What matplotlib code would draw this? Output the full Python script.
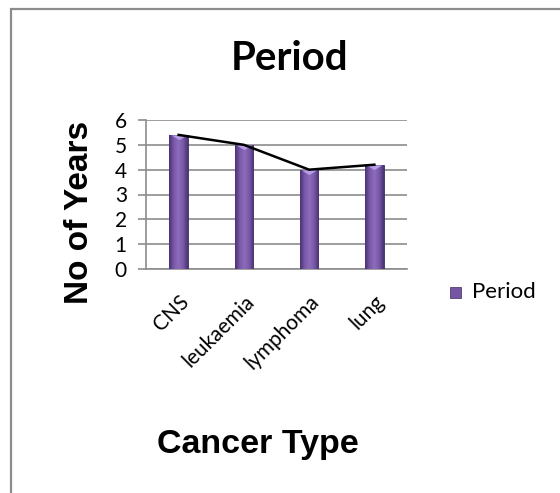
import matplotlib
matplotlib.use("Agg")
import matplotlib.pyplot as plt
import numpy as np
from matplotlib.colors import LinearSegmentedColormap
from matplotlib.patches import Rectangle
from matplotlib.path import Path

categories = ["CNS", "leukaemia", "lymphoma", "lung"]
period = [5.4, 5.0, 4.0, 4.2]
y_ticks = [0, 1, 2, 3, 4, 5, 6]

BODY_FONT = ["Lato", "DejaVu Sans"]
HEAD_FONT = ["Liberation Sans", "DejaVu Sans"]

fig = plt.figure(figsize=(5.6, 4.93), dpi=100)
fig.patch.set_facecolor("white")

# outer chart border
fig.add_artist(Rectangle((11 / 560, -0.05), 1.2, 1 - 8.5 / 493 + 0.05,
                         transform=fig.transFigure, fill=False,
                         edgecolor="#8c8c8c", linewidth=1.6))

ax = fig.add_axes([146 / 560, 224 / 493, 261 / 560, 149 / 493])
x = np.arange(len(categories))
bars = ax.bar(x, period, width=0.28, color="#7656a3", zorder=3,
              edgecolor="#3e2a5e", linewidth=0.6)

# shaded bar fill
shade = LinearSegmentedColormap.from_list(
    "shade", ["#4a3272", "#7a5aa8", "#8d6dbb", "#7a5aa8", "#4a3272"])
grad = np.linspace(0, 1, 64).reshape(1, -1)
for b in bars:
    x0, y0 = b.get_x(), b.get_y()
    im = ax.imshow(grad, cmap=shade, aspect="auto", zorder=3.5,
                   extent=(x0, x0 + b.get_width(), y0, y0 + b.get_height()))
    im.set_clip_path(b)

# flat bevel highlight on top of each bar
bevel = Path([(-1, 0), (1, 0), (0, -0.6), (-1, 0)],
             [Path.MOVETO, Path.LINETO, Path.LINETO, Path.CLOSEPOLY])
ax.plot(x, period, linestyle="none", marker=bevel, markersize=11,
        markerfacecolor="#b89ee6", markeredgecolor="none", zorder=4)

ax.plot(x, period, color="black", linewidth=1.8, zorder=5)

ax.set_xlim(-0.5, len(categories) - 0.5)
ax.set_ylim(0, 6)
ax.set_yticks(y_ticks)
ax.set_yticklabels([str(t) for t in y_ticks], fontsize=15, family=BODY_FONT)
ax.set_xticks(x)
ax.set_xticklabels(categories, rotation=45, ha="right", rotation_mode="anchor",
                   fontsize=15, family=BODY_FONT)
ax.tick_params(axis="x", length=0, pad=16)
ax.tick_params(axis="y", length=5.8, color="#8c8c8c", width=1.2, pad=8)

ax.grid(axis="y", color="#8c8c8c", linewidth=1.2, zorder=0)
for s in ["top", "right"]:
    ax.spines[s].set_visible(False)
for s in ["left", "bottom"]:
    ax.spines[s].set_color("#8c8c8c")
    ax.spines[s].set_linewidth(1.2)

fig.text(290 / 560, 1 - 59 / 493, "Period", ha="center", va="center",
         fontsize=29, fontweight="bold", family=BODY_FONT)
fig.text(80 / 560, 1 - 212 / 493, "No of Years", ha="center", va="center",
         rotation=90, fontsize=24, fontweight="bold", family=HEAD_FONT)
fig.text(258 / 560, 1 - 444 / 493, "Cancer Type", ha="center", va="center",
         fontsize=24.5, fontweight="bold", family=HEAD_FONT)

# legend entry
fig.add_artist(Rectangle((450 / 560, 1 - 298 / 493), 11 / 560, 11 / 493,
                         transform=fig.transFigure, facecolor="#7656a3",
                         edgecolor="#3e2a5e", linewidth=0.5))
fig.text(472 / 560, 1 - 292 / 493, "Period", ha="left", va="center",
         fontsize=16, family=BODY_FONT)

fig.savefig("out.png", dpi=100, facecolor="white")
